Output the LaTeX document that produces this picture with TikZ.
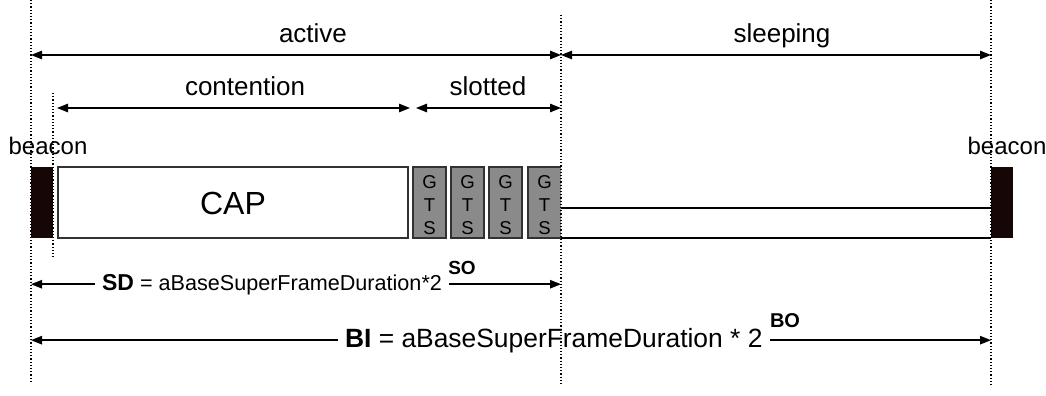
\documentclass[tikz,border=0pt]{standalone}
\usepackage{fontspec}
\setmainfont{Liberation Sans}
\usetikzlibrary{arrows.meta}
\definecolor{beaconfill}{RGB}{22,6,6}
\definecolor{slotfill}{RGB}{138,138,138}
\definecolor{edgegray}{RGB}{50,50,50}

\begin{document}
\begin{tikzpicture}[x=0.5pt,y=-0.5pt]

      \tikzset{span/.style={line width=0.75pt, {Triangle[length=5.5pt,width=4.2pt]}-{Triangle[length=5.5pt,width=4.2pt]}},
               halfspan/.style={line width=0.75pt, -{Triangle[length=5.5pt,width=4.2pt]}},
               marker/.style={densely dotted, line width=0.6pt},
               slotbox/.style={draw=edgegray, fill=slotfill, line width=0.7pt},
               caption/.style={anchor=base, font=\fontsize{13}{15}\selectfont},
               gts/.style={align=center, inner sep=0pt, font=\fontsize{9.3}{11.3}\selectfont}}
      \useasboundingbox (0,0) rectangle (1046,396);
%% Markers
      	\coordinate (startT) at (31,0);   \coordinate (startB) at (31,381);
      	\coordinate (capT) at (53,93);    \coordinate (capB) at (53,258);
      	\coordinate (sleepT) at (561,15); \coordinate (sleepB) at (561,386);
      	\coordinate (endT) at (991,0);    \coordinate (endB) at (991,386);
      	\draw[marker] (startT) -- (startB);
      	\draw[marker] (capT) -- (capB);
%% Superframe
      	\fill[beaconfill] (31,167) rectangle (53,238);
      	\fill[beaconfill] (991,167) rectangle (1013,238);
      	\draw[draw=edgegray, line width=0.8pt, fill=white] (58,167) rectangle (408,238);
      	\node[font=\fontsize{16}{18}\selectfont] (cap) at (233,203) {CAP};
      	\foreach \x/\n in {413/1, 451/2, 489/3} {
      	    \draw[slotbox] (\x,167) rectangle ++(33,71);
      	    \node[gts] (gts\n) at (\x+16.5,205) {G\\T\\S};
      	}
      	\fill[slotfill] (528,167) rectangle (561,238);
      	\draw[draw=edgegray, line width=0.7pt] (561,167) -- (528,167) -- (528,238) -- (561,238);
      	\node[gts] (gts4) at (544.5,205) {G\\T\\S};
      	\draw[line width=0.7pt] (561,208) -- (991,208);
      	\draw[line width=0.7pt] (561,238) -- (991,238);
      	\draw[marker] (sleepT) -- (sleepB);
      	\draw[marker] (endT) -- (endB);
      	\node[anchor=base, font=\fontsize{12}{14}\selectfont] (beaconL) at (48,154) {beacon};
      	\node[anchor=base, font=\fontsize{12}{14}\selectfont] (beaconR) at (1007,154) {beacon};
%% Periods
      	\coordinate (actL) at (31,55);   \coordinate (actR) at (561,55);
      	\coordinate (slpR) at (991,55);
      	\coordinate (conL) at (57,108);  \coordinate (conR) at (410,108);
      	\coordinate (sltL) at (416,108); \coordinate (sltR) at (561,108);
		\draw[span] (actL) -- (actR);
		\draw[span] (actR) -- (slpR);
		\draw[span] (conL) -- (conR);
		\draw[span] (sltL) -- (sltR);
		\node[caption] (active) at (313,42) {active};
		\node[caption] (sleeping) at (782,42) {sleeping};
		\node[caption] (contention) at (245,96) {contention};
		\node[caption] (slotted) at (488,96) {slotted};
%% Durations
		\node[anchor=base west, font=\fontsize{10.8}{13}\selectfont] (sd) at (95,290)
		    {{\fontsize{11.5}{13}\selectfont\bfseries SD} = aBaseSuperFrameDuration*2};
		\node[anchor=base, font=\fontsize{9.5}{11}\selectfont\bfseries] (so) at (462,274) {SO};
		\draw[halfspan] (sd.west) -- (sd.west -| startB);
		\draw[halfspan] (sd.east) -- (sd.east -| sleepB);
		\node[anchor=base west, font=\fontsize{13.2}{15}\selectfont] (bi) at (338,347)
		    {\textbf{BI} = aBaseSuperFrameDuration * 2};
		\node[anchor=base, font=\fontsize{10}{12}\selectfont\bfseries] (bo) at (785,327) {BO};
		\draw[halfspan] (bi.west) -- (bi.west -| startB);
		\draw[halfspan] (bi.east) -- (bi.east -| endB);

	\end{tikzpicture}
\end{document}
